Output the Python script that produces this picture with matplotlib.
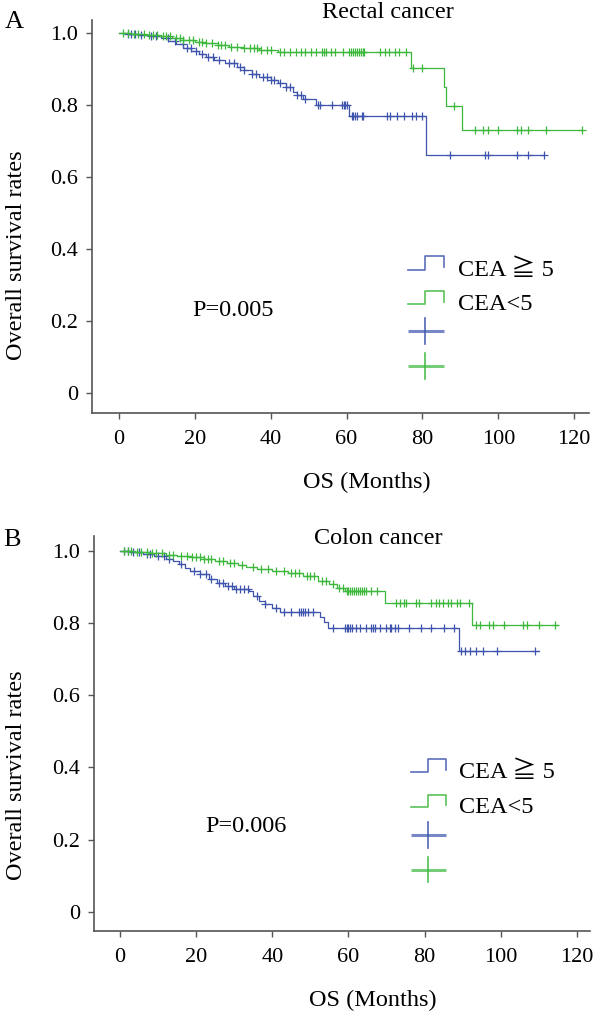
import numpy as np
import matplotlib
matplotlib.use('Agg')
import matplotlib.pyplot as plt

plt.rcParams['font.family'] = ['Liberation Serif', 'DejaVu Serif', 'Noto Sans CJK SC']

# 颜色
BLUE = '#3f55ad'
GREEN = '#3db83d'
AXIS_C = '#555555'

# ---------------- 数据 ----------------
# A: 直肠癌  CEA≥5
rectal_hi_t = [2, 5, 8, 11, 13, 15, 17, 19, 21, 23, 25, 28, 31, 33, 35, 37, 40, 42, 44, 46, 47, 48.5, 52, 60.7, 81]
rectal_hi_s = [0.997, 0.994, 0.99, 0.984, 0.977, 0.968, 0.958, 0.950, 0.940, 0.932, 0.924, 0.917, 0.906, 0.896,
               0.885, 0.877, 0.870, 0.860, 0.848, 0.836, 0.826, 0.815, 0.80, 0.77, 0.661]
rectal_hi_end = 112
rectal_hi_cens = [2.3, 3.3, 4.3, 5.8, 8.4, 9.9, 12.9, 14.9, 16.9, 17.9, 18.9, 20.4, 21.9, 23.4, 24.9, 26.4, 29, 30.4,
                  32, 33, 35, 36, 38, 39, 40, 41, 42.5, 44, 45, 47, 48, 49, 52.6, 52.9, 56.1, 58.7, 59.2, 59.6, 60.0,
                  61.4, 61.8, 62.2, 62.7, 64, 64.4, 70.6, 71.5, 73.3, 75.1, 77.3, 78.2, 80.0,
                  87.3, 96.4, 97.4, 104.8, 107.9, 112]
# A: 直肠癌  CEA<5
rectal_lo_t = [3, 7, 11, 14, 17, 20, 23, 26, 29, 33, 37, 42, 77, 85.7, 86.2, 90.4]
rectal_lo_s = [0.997, 0.994, 0.99, 0.985, 0.98, 0.975, 0.97, 0.965, 0.96, 0.956, 0.951, 0.946, 0.903, 0.85,
               0.797, 0.731]
rectal_lo_end = 122
rectal_lo_cens = [1, 2.5, 4, 5, 6.5, 8, 9, 10, 11.5, 12.5, 13.5, 15, 16, 17, 18.5, 19.5, 21, 22, 23, 24.5, 26, 27, 28,
                  29.5, 31, 33, 34.5, 35.5, 36.5, 37.5, 39, 40, 42.5, 43.5, 45, 46.6, 48, 49, 50.6, 52, 53.6, 54,
                  54.5, 56, 57, 59, 60.6, 61.2, 61.6, 62.2, 62.7, 63.2, 63.7, 64.2, 64.7, 68.7, 70.2, 71.2, 72.8,
                  73.8, 75.7, 77.4, 79.8, 88.2, 93.9, 95.9, 97.4, 99.9, 104.9, 105.9, 107.9, 112.5, 122]

# B: 结肠癌  CEA≥5
colon_hi_t = [3, 6, 9, 12, 14, 15.5, 17, 18.5, 21, 23.5, 25.5, 27.5, 30, 34, 35, 36.5, 38, 40, 42, 52.5, 53.5, 54.5, 89]
colon_hi_s = [0.996, 0.992, 0.986, 0.979, 0.972, 0.963, 0.953, 0.944, 0.935, 0.922, 0.912, 0.902, 0.896, 0.888,
              0.876, 0.862, 0.852, 0.843, 0.832, 0.816, 0.802, 0.787, 0.722]
colon_hi_end = 110
colon_hi_cens = [1, 2, 3.5, 5, 7, 8, 10, 11.5, 13, 16, 19.5, 21, 22.5, 24, 26, 27, 28.5, 29.5, 30.5, 31.5, 32.5, 33.5,
                 36, 38, 41, 43, 45, 47, 47.5, 48, 48.5, 49.5, 50.8, 56.0, 59.1, 59.5, 60, 60.4, 60.8, 62.1, 63, 64.7,
                 66, 66.5, 66.9, 68.2, 69.9, 70.8, 71.2, 72.1, 73, 76, 79.1, 81.7, 85.2, 87.8,
                 89.5, 90.5, 92, 93.5, 95.4, 98.9, 108.9]
# B: 结肠癌  CEA<5
colon_lo_t = [4, 8, 12, 15, 19, 22, 25, 28, 31, 33, 36, 40, 44, 48, 52, 55, 57, 59, 69.5, 92.3]
colon_lo_s = [0.997, 0.994, 0.99, 0.986, 0.982, 0.978, 0.973, 0.968, 0.962, 0.956, 0.95, 0.944, 0.938, 0.932,
              0.918, 0.908, 0.898, 0.888, 0.857, 0.795]
colon_lo_end = 115
colon_lo_cens = [1, 2, 3, 4.5, 5.5, 7, 8.5, 9.5, 11, 13, 14, 16, 17.5, 19, 20, 21, 22, 23, 24, 26, 27, 29, 30, 32, 35,
                 37, 39, 41, 43, 45, 46, 47, 49, 50, 51, 53, 54, 56, 57.5, 58.5, 59.5, 60, 60.5, 61, 61.5, 62, 62.5,
                 63, 63.5, 64, 64.5, 66, 67.5, 72.5, 73.4, 74.7, 75.1, 77.7, 78.6, 81.6, 82.9, 83.8, 84.7, 86, 86.8,
                 88.6, 89.4, 91.6, 93.4, 94.4, 96.9, 97.9, 100.9, 105.9, 106.9, 109.9, 114.3]

x_ticks = [0, 20, 40, 60, 80, 100, 120]
y_ticks = [0, 0.2, 0.4, 0.6, 0.8, 1.0]
y_tick_labels = ['0', '0.2', '0.4', '0.6', '0.8', '1.0']
legend_labels = ['CEA ≧ 5', 'CEA<5']

W, H = 596, 1013
FS = 17.5


def km_curve(ax, t, s, end, cens, color):
    tt = np.r_[0, t, end]
    ss = np.r_[1.0, s, s[-1]]
    ax.step(tt, ss, where='post', color=color, lw=0.9, zorder=3)
    cens = np.asarray(cens)
    idx = np.searchsorted(np.asarray(t), cens, side='right')
    sv = np.r_[1.0, s][idx]
    ax.plot(cens, sv, ls='none', marker='+', ms=6, mew=0.9, color=color, zorder=4)


def draw_legend(ax, xs, ys, pval_xy, pval):
    x0, xm, x1, xt = xs
    (b_lo, b_hi), (g_lo, g_hi), bp, gp = ys
    for (lo, hi), c, lab in [((b_lo, b_hi), BLUE, legend_labels[0]), ((g_lo, g_hi), GREEN, legend_labels[1])]:
        ax.plot([x0, xm, xm, x1, x1], [lo, lo, hi, hi, lo + 0.2 * (hi - lo)], color=c, lw=1.2, alpha=0.85)
        ax.text(xt, lo, lab, fontsize=FS, va='center', ha='left')
    for yc, c in [(bp, BLUE), (gp, GREEN)]:
        ax.plot([x0, x1], [yc, yc], color=c, lw=2.2, alpha=0.7, solid_capstyle='butt')
        ax.plot([xm, xm], [yc - 0.036, yc + 0.036], color=c, lw=1.2, alpha=0.9)
    ax.text(pval_xy[0], pval_xy[1], pval, fontsize=FS, ha='center', va='center')


def style_axes(ax, xlim, ylim):
    ax.set_xlim(*xlim)
    ax.set_ylim(*ylim)
    for sp in ['top', 'right']:
        ax.spines[sp].set_visible(False)
    for sp in ['left', 'bottom']:
        ax.spines[sp].set_color(AXIS_C)
        ax.spines[sp].set_linewidth(1.2)
    ax.set_xticks(x_ticks)
    ax.set_yticks(y_ticks)
    ax.set_yticklabels(y_tick_labels)
    ax.tick_params(axis='both', colors=AXIS_C, labelcolor='black', labelsize=16, length=4, width=1.0)
    ax.tick_params(axis='x', pad=8)
    ax.tick_params(axis='y', pad=6)


fig = plt.figure(figsize=(W / 100, H / 100), dpi=100)

# A 面板
axA = fig.add_axes([92 / W, 1 - 413 / H, 497 / W, 393 / H])
km_curve(axA, rectal_hi_t, rectal_hi_s, rectal_hi_end, rectal_hi_cens, BLUE)
km_curve(axA, rectal_lo_t, rectal_lo_s, rectal_lo_end, rectal_lo_cens, GREEN)
style_axes(axA, (-7.1, 123.9), (-0.0546, 1.035))
draw_legend(axA, (76.3, 80.8, 85.8, 89.5), ((0.342, 0.381), (0.247, 0.283), 0.173, 0.076), (30, 0.23), 'P=0.005')

# B 面板
axB = fig.add_axes([94 / W, 1 - 931 / H, 496 / W, 395 / H])
km_curve(axB, colon_hi_t, colon_hi_s, colon_hi_end, colon_hi_cens, BLUE)
km_curve(axB, colon_lo_t, colon_lo_s, colon_lo_end, colon_lo_cens, GREEN)
style_axes(axB, (-6.8, 123.4), (-0.0535, 1.0416))
draw_legend(axB, (76.3, 81.0, 85.5, 89.0), ((0.386, 0.423), (0.289, 0.323), 0.212, 0.117), (33, 0.236), 'P=0.006')

# 文本
fig.text(14 / W, 1 - 22 / H, 'A', fontsize=19, ha='center', va='center')
fig.text(12 / W, 1 - 540 / H, 'B', fontsize=19, ha='center', va='center')
fig.text(388 / W, 1 - 12 / H, 'Rectal cancer', fontsize=FS, ha='center', va='center')
fig.text(378 / W, 1 - 539 / H, 'Colon cancer', fontsize=FS, ha='center', va='center')
fig.text(367 / W, 1 - 482 / H, 'OS (Months)', fontsize=FS, ha='center', va='center')
fig.text(373 / W, 1 - 1000 / H, 'OS (Months)', fontsize=FS, ha='center', va='center')
fig.text(17 / W, 1 - 255 / H, 'Overall survival rates', fontsize=FS, rotation=90, ha='center', va='center')
fig.text(17 / W, 1 - 775 / H, 'Overall survival rates', fontsize=FS, rotation=90, ha='center', va='center')

fig.savefig('out.png', dpi=100)
